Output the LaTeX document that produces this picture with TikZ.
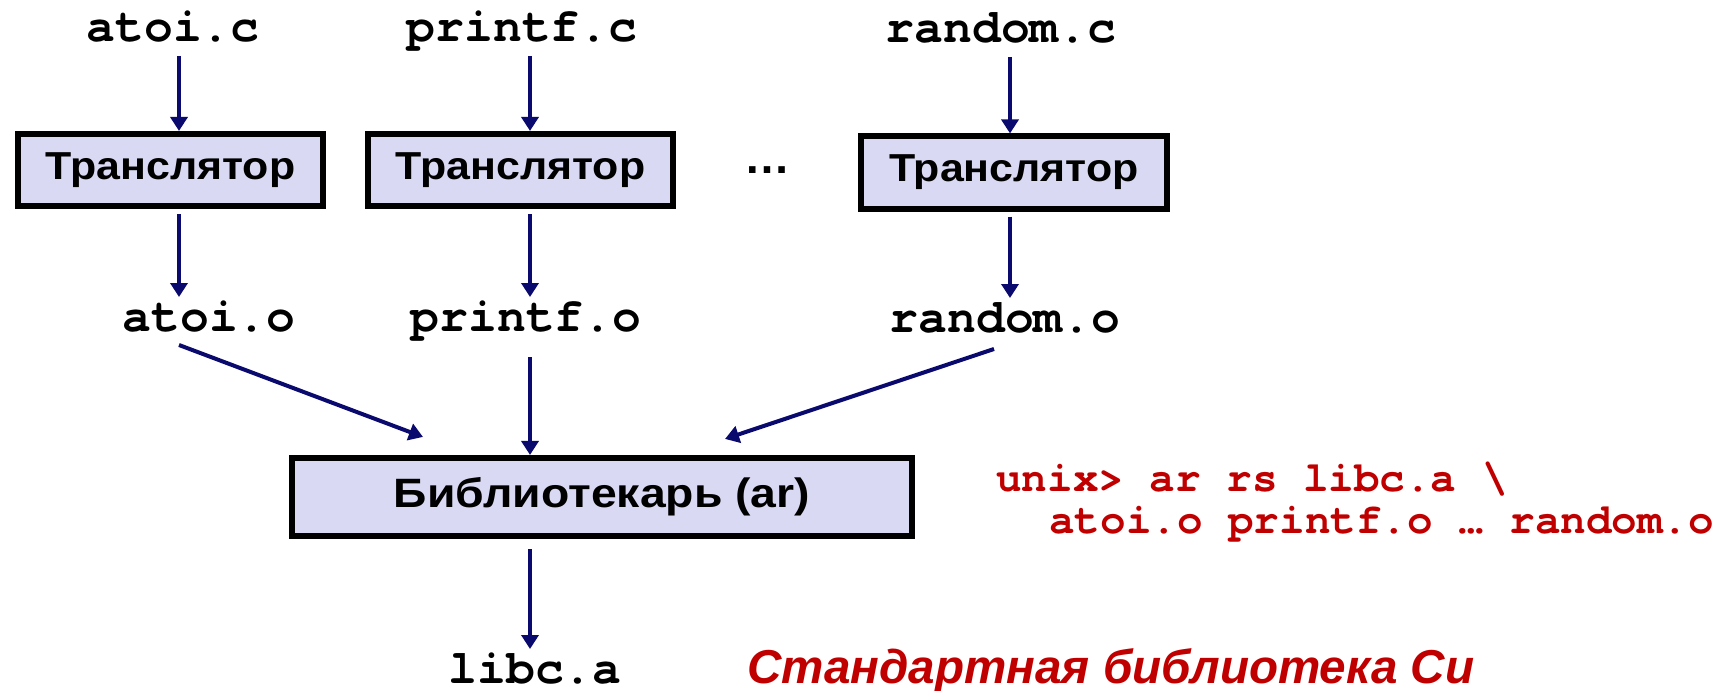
\documentclass[tikz,border=0pt]{standalone}
\usepackage{fontspec}
\setmainfont{Liberation Sans}
\newfontfamily\codefont{texgyrecursor}[Extension=.otf, UprightFont=*-regular, BoldFont=*-bold]
\newfontfamily\boxfontA{Liberation Sans}[FakeStretch=1.1]
\newfontfamily\boxfontB{Liberation Sans}[FakeStretch=1.13]
\usetikzlibrary{arrows.meta,calc}
\definecolor{arrowblue}{RGB}{10,10,110}
\definecolor{boxfill}{RGB}{217,217,243}
\definecolor{cmdred}{RGB}{192,0,0}
\begin{document}
\begin{tikzpicture}[x=0.5pt,y=-0.5pt,
  arr/.style={draw=arrowblue, line width=2pt, -{Triangle[length=7pt,width=8.5pt]}},
  mlab/.style={font={\codefont\bfseries\fontsize{24}{28}\selectfont}, text height=15pt, text depth=5pt, inner sep=2pt, outer sep=0pt, anchor=base},
  tbox/.style={draw=black, fill=boxfill, line width=2.8pt, minimum width=152.75pt, minimum height=36.25pt, inner sep=0pt, font={\boxfontA\bfseries\fontsize{19.5}{23}\selectfont}},
  libbox/.style={draw=black, fill=boxfill, line width=2.8pt, minimum width=310.25pt, minimum height=39.25pt, inner sep=0pt, font={\boxfontB\bfseries\fontsize{20.5}{24}\selectfont}},
  cmd/.style={font={\codefont\bfseries\fontsize{21.3}{25}\selectfont}, text=cmdred, inner sep=0pt, anchor=base west},
  stdlib/.style={font={\bfseries\itshape\fontsize{23.8}{28}\selectfont}, text=cmdred, inner sep=0pt, anchor=base west},
  dotsn/.style={font={\bfseries\fontsize{23}{26}\selectfont}, inner sep=0pt, anchor=base}
]
\useasboundingbox (0,0) rectangle (1722,690);
% column coordinates for arrows
\coordinate (colA) at (179,0);
\coordinate (colB) at (530,0);
\coordinate (colC) at (1010,0);

\node[mlab] (atoic) at (173,42) {atoi.c};
\node[mlab] (printfc) at (522,42) {printf.c};
\node[mlab] (randomc) at (1001,43) {random.c};

\node[tbox] (t1) at (170.5,170) {Транслятор};
\node[tbox] (t2) at (520.5,170) {Транслятор};
\node[tbox] (t3) at (1014,172.5) {Транслятор};
\node[dotsn] (dots) at (767,173) {…};

\node[mlab] (atoio) at (209,331) {atoi.o};
\node[mlab] (printfo) at (526,331) {printf.o};
\node[mlab] (randomo) at (1005,332) {random.o};

\node[libbox] (ar) at (602,497) {Библиотекарь (ar)};
\node[mlab] (libc) at (535,683) {libc.a};

\node[cmd] (cmd1) at (996,491) {unix> ar rs libc.a \textbackslash};
\node[cmd] (cmd2) at (1049,533) {atoi.o printf.o … random.o};
\node[stdlib] (std) at (747,683) {Стандартная библиотека Си};

% arrows
\draw[arr] (atoic.south -| colA) -- (t1.north -| colA);
\draw[arr] (printfc.south -| colB) -- (t2.north -| colB);
\draw[arr] (randomc.south -| colC) -- (t3.north -| colC);
\draw[arr, shorten <=2.5pt] (t1.south -| colA) -- (atoio.north -| colA);
\draw[arr, shorten <=2.5pt] (t2.south -| colB) -- (printfo.north -| colB);
\draw[arr, shorten <=2.5pt] (t3.south -| colC) -- (randomo.north -| colC);
\draw[arr] (atoio.south -| colA) -- ($(ar.north)+(-179,-18)$);
\draw[arr, shorten <=6pt] (printfo.south -| colB) -- (ar.north -| colB);
\draw[arr] ($(randomo.south -| colC)+(-16,3)$) -- ($(ar.north)+(123,-16)$);
\draw[arr, shorten <=5pt] (ar.south -| colB) -- (libc.north -| colB);
\end{tikzpicture}
\end{document}
